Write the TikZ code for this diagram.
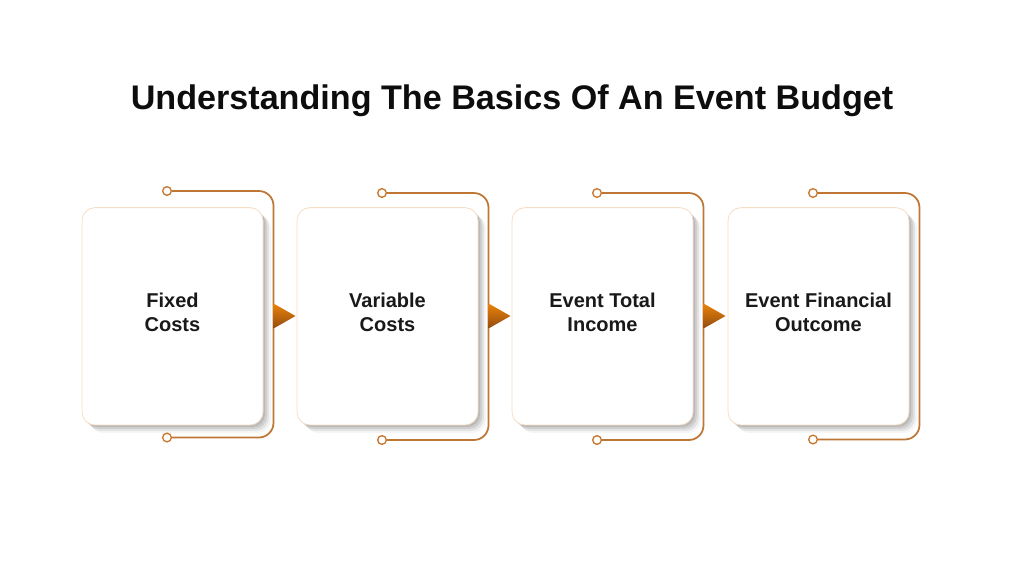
\documentclass[tikz,border=0pt]{standalone}
\usepackage{fontspec}
\setmainfont{Liberation Sans}
\usetikzlibrary{shadows}
\definecolor{cardline}{RGB}{246,222,198}
\definecolor{bracketline}{RGB}{190,118,52}
\definecolor{tiptop}{RGB}{234,130,8}
\definecolor{tipbottom}{RGB}{146,76,18}
\tikzset{
  card/.style={draw=cardline, fill=white, line width=0.6pt, rounded corners=9.75pt,
    minimum width=135.75pt, minimum height=163pt, inner sep=0pt,
    drop shadow={shadow xshift=1.5pt, shadow yshift=-1.5pt, fill=black, opacity=0.10},
    drop shadow={shadow xshift=3pt, shadow yshift=-3pt, fill=black, opacity=0.09},
    drop shadow={shadow xshift=4.5pt, shadow yshift=-4.5pt, fill=black, opacity=0.07},
    drop shadow={shadow xshift=6pt, shadow yshift=-6pt, fill=black, opacity=0.04}},
  cardtext/.style={font=\bfseries\fontsize{15}{18.4}\selectfont, align=center, text=black!90},
  dot/.style={circle, draw=bracketline!85!orange, fill=white, line width=1pt, minimum size=6.5pt, inner sep=0pt},
  bracket/.style={draw=bracketline, line width=1.3pt, rounded corners=11pt},
  tip/.style={top color=tiptop, bottom color=tipbottom, draw=none}
}
\begin{document}
\begin{tikzpicture}[x=0.75pt,y=0.75pt,yscale=-1,xscale=1]
\path[use as bounding box, fill=white] (0,0) rectangle (1024,576);

% Title
\node[anchor=base, text=black!95] (title) at (512,109.5) {\bfseries\fontsize{25.6}{30}\selectfont Understanding The Basics Of An Event Budget};

% Brackets
\node[dot] (fixed-top) at (167,191) {};
\node[dot] (fixed-bot) at (167,437.5) {};
\coordinate (fixed-mid) at (273.5,316);
\draw[bracket] (fixed-top.east) -| (fixed-mid) |- (fixed-bot.east);

\node[dot] (var-top) at (382,193) {};
\node[dot] (var-bot) at (382,440) {};
\coordinate (var-mid) at (488.5,316);
\draw[bracket] (var-top.east) -| (var-mid) |- (var-bot.east);

\node[dot] (inc-top) at (597,193) {};
\node[dot] (inc-bot) at (597,440) {};
\coordinate (inc-mid) at (703.5,316);
\draw[bracket] (inc-top.east) -| (inc-mid) |- (inc-bot.east);

\node[dot] (out-top) at (813,193) {};
\node[dot] (out-bot) at (813,439.5) {};
\coordinate (out-mid) at (919.5,316);
\draw[bracket] (out-top.east) -| (out-mid) |- (out-bot.east);

% Cards
\node[card] (fixed) at (172.5,316.3) {};
\node[card] (var) at (387.5,316.3) {};
\node[card] (inc) at (602.5,316.3) {};
\node[card] (out) at (818.5,316.3) {};

% Text Node
\node[cardtext] (fixed-text) at (172.5,312.5) {Fixed\\Costs};
% Text Node
\node[cardtext] (var-text) at (387.5,312.5) {Variable\\Costs};
% Text Node
\node[cardtext] (inc-text) at (602.5,312.5) {Event Total\\Income};
% Text Node
\node[cardtext] (out-text) at (818.5,312.5) {Event Financial\\Outcome};

% Arrow tips
\shade[tip] (fixed-mid) ++(0,-12.5) -- ++(22,12.5) -- ++(-22,12.5) -- cycle;
\shade[tip] (var-mid) ++(0,-12.5) -- ++(22,12.5) -- ++(-22,12.5) -- cycle;
\shade[tip] (inc-mid) ++(0,-12.5) -- ++(22,12.5) -- ++(-22,12.5) -- cycle;

\end{tikzpicture}
\end{document}
